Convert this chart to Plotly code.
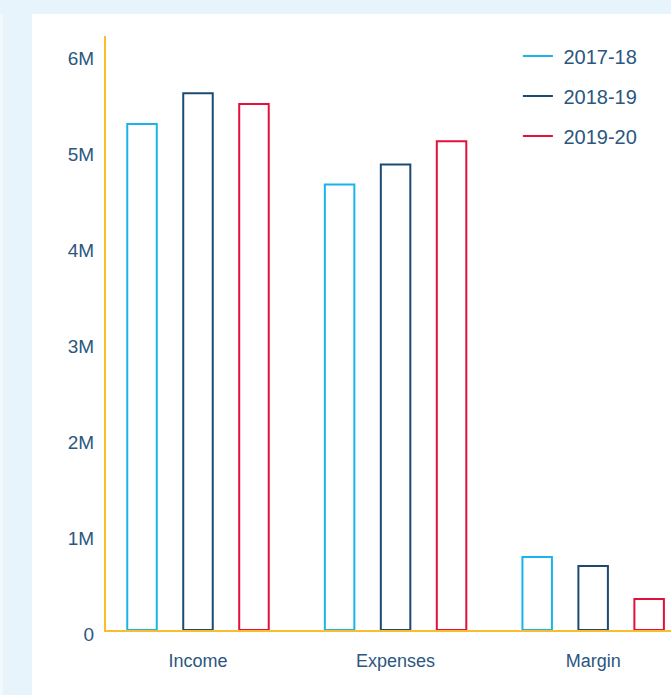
import plotly.graph_objects as go

categories = ["Income", "Expenses", "Margin"]
series_names = ["2017-18", "2018-19", "2019-20"]
values_2017_18 = [5.27e6, 4.64e6, 0.76e6]
values_2018_19 = [5.59e6, 4.85e6, 0.667e6]
values_2019_20 = [5.48e6, 5.09e6, 0.323e6]
series_values = [values_2017_18, values_2018_19, values_2019_20]
series_colors = ["#1ab4ea", "#1c4a73", "#e2103c"]
y_tick_vals = [0, 1e6, 2e6, 3e6, 4e6, 5e6, 6e6]
y_tick_text = ["0", "1M", "2M", "3M", "4M", "5M", "6M"]

text_color = "#2b5781"
axis_color = "#fbbd30"
font_family = "Liberation Sans, Arial, sans-serif"

fig = go.Figure()
for name, vals, col in zip(series_names, series_values, series_colors):
    fig.add_trace(go.Bar(
        x=categories, y=vals, name=name, showlegend=False,
        marker=dict(color="rgba(255,255,255,0)", line=dict(color=col, width=2)),
        hoverinfo="skip",
    ))
for i, (name, col) in enumerate(zip(series_names, series_colors)):
    fig.add_trace(go.Scatter(
        x=[None], y=[None], mode="lines", name="\u00a0" + name, legendgroup=f"g{i}",
        line=dict(color=col, width=2),
    ))

fig.update_layout(
    width=671, height=695,
    margin=dict(l=106, r=0, t=36, b=65, pad=0),
    paper_bgcolor="#e8f4fc",
    plot_bgcolor="rgba(0,0,0,0)",
    barmode="group",
    bargap=0.15,
    bargroupgap=0.473,
    font=dict(family=font_family, color=text_color),
    legend=dict(
        x=0.729, y=0.9992, xanchor="left", yanchor="top",
        bgcolor="rgba(0,0,0,0)", borderwidth=0,
        font=dict(size=20, color=text_color, family=font_family),
        traceorder="grouped", tracegroupgap=11,
    ),
    shapes=[
        dict(type="rect", xref="paper", yref="paper", x0=-0.131, x1=1.2,
             y0=-0.2, y1=(630 - 14) / 594, fillcolor="white", line=dict(width=0), layer="below"),
        dict(type="rect", xref="paper", yref="paper", x0=-106 / 565, x1=-103 / 565,
             y0=-0.2, y1=(630 - 14) / 594, fillcolor="#f2f9fe", line=dict(width=0), layer="below"),
    ],
)
fig.update_xaxes(
    range=[-0.4656, 2.394],
    showgrid=False, zeroline=False,
    showline=True, linecolor=axis_color, linewidth=2,
    ticks="", tickfont=dict(size=18, color=text_color),
    ticklabelstandoff=13,
)
fig.update_yaxes(
    range=[0, 6.1875e6],
    showgrid=False, zeroline=False,
    showline=True, linecolor=axis_color, linewidth=2,
    ticks="", tickvals=y_tick_vals, ticktext=y_tick_text,
    tickfont=dict(size=19, color=text_color),
    ticklabelstandoff=6, ticklabelshift=4,
)
fig.write_html("out.html", config={"displayModeBar": False},
               post_script="document.body.style.margin='0';")
